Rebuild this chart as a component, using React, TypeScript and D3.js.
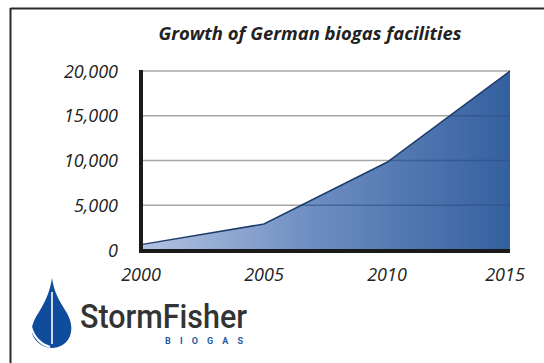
import React from "react";
import * as d3 from "d3";

const years = [2000, 2005, 2010, 2015];
const facilities = [600, 2900, 9800, 20000];
const yTicks = [0, 5000, 10000, 15000, 20000];
const xTicks = [2000, 2005, 2010, 2015];
const title = "Growth of German biogas facilities";

export default function App() {
  const W = 544, H = 363;
  const x = d3.scaleLinear().domain([2000, 2015]).range([141, 510]);
  const y = d3.scaleLinear().domain([0, 20000]).range([250, 71]);
  const data = years.map((yr, i) => ({ yr, v: facilities[i] }));
  const area = d3.area<{ yr: number; v: number }>().x(d => x(d.yr)).y0(y(0)).y1(d => y(d.v));
  const line = d3.line<{ yr: number; v: number }>().x(d => x(d.yr)).y(d => y(d.v));
  const fmt = d3.format(",");
  const font = "'Open Sans', 'DejaVu Sans', sans-serif";

  return (
    <svg width={W} height={H} style={{ position: "absolute", left: 0, top: 0, background: "#fff" }}>
      <defs>
        <linearGradient id="g" x1="0" x2="1" y1="0" y2="0">
          <stop offset="0%" stopColor="#b4c4e2" />
          <stop offset="45%" stopColor="#6f8fc2" />
          <stop offset="100%" stopColor="#34609f" />
        </linearGradient>
        <clipPath id="areaClip">
          <path d={area(data) || ""} />
        </clipPath>
      </defs>
      <rect width={W} height={H} fill="#fff" />
      {/* frame */}
      <line x1={10.5} x2={W} y1={8.5} y2={8.5} stroke="#2a2a2a" strokeWidth={2} />
      <line x1={10.5} x2={10.5} y1={8} y2={H} stroke="#2a2a2a" strokeWidth={2} />
      {/* title */}
      <text x={310} y={40} textAnchor="middle" fontFamily={font} fontWeight={700} fontStyle="italic" fontSize={18} fill="#222" textLength={303} lengthAdjust="spacingAndGlyphs">
        {title}
      </text>
      {/* gridlines */}
      {yTicks.map(t => (
        <line key={t} x1={x(2000)} x2={x(2015)} y1={y(t)} y2={y(t)} stroke="#a6a6a6" strokeWidth={1.5} />
      ))}
      {/* area */}
      <path d={area(data) || ""} fill="url(#g)" />
      {yTicks.map(t => (
        <line key={"a" + t} x1={x(2000)} x2={x(2015)} y1={y(t)} y2={y(t)} stroke="#2b4f85" strokeOpacity={0.6} strokeWidth={1.3} clipPath="url(#areaClip)" />
      ))}
      <path d={line(data) || ""} fill="none" stroke="#1f3d6b" strokeWidth={1.5} />
      {/* axes */}
      <line x1={x(2000)} x2={x(2000)} y1={y(20000) - 1} y2={y(0) + 3} stroke="#1a1a1a" strokeWidth={4} />
      <line x1={x(2000) - 2} x2={x(2015)} y1={y(0) + 1} y2={y(0) + 1} stroke="#1a1a1a" strokeWidth={4} />
      {/* y labels */}
      {yTicks.map(t => (
        <text key={"yl" + t} x={118} y={y(t) + 6.5} textAnchor="end" fontFamily={font} fontStyle="italic" fontSize={18} fill="#222">
          {fmt(t)}
        </text>
      ))}
      {/* x labels */}
      {xTicks.map((t, i) => (
        <text key={"xl" + t} x={x(t) - (i === 3 ? 5 : 0)} y={281} textAnchor="middle" fontFamily={font} fontStyle="italic" fontSize={18} fill="#222">
          {t}
        </text>
      ))}
      {/* logo */}
      <g>
        <path
          d="M52,278 C50,292 45,302 39,312 C33,321 30,329 33,336 C37,344 45,348 52,348 C59,348 67,344 70,336 C73,328 71,319 65,310 C59,300 54,292 52,278 Z"
          fill="#0f4c9c"
        />
        <path d="M31,327 C34,338 42,345 50,347" fill="none" stroke="#fff" strokeWidth={2.2} />
        <line x1={52} x2={52} y1={292} y2={344} stroke="#fff" strokeWidth={1.6} />
        <text x={80} y={328} fontFamily="Roboto, 'Open Sans', sans-serif" fontWeight={500} fontSize={34} fill="#333" textLength={167} lengthAdjust="spacingAndGlyphs">
          StormFisher
        </text>
        <text x={165} y={343.5} fontFamily="Roboto, sans-serif" fontWeight={700} fontSize={9} fill="#1f5aa0" textLength={78} lengthAdjust="spacing">
          BIOGAS
        </text>
      </g>
    </svg>
  );
}
